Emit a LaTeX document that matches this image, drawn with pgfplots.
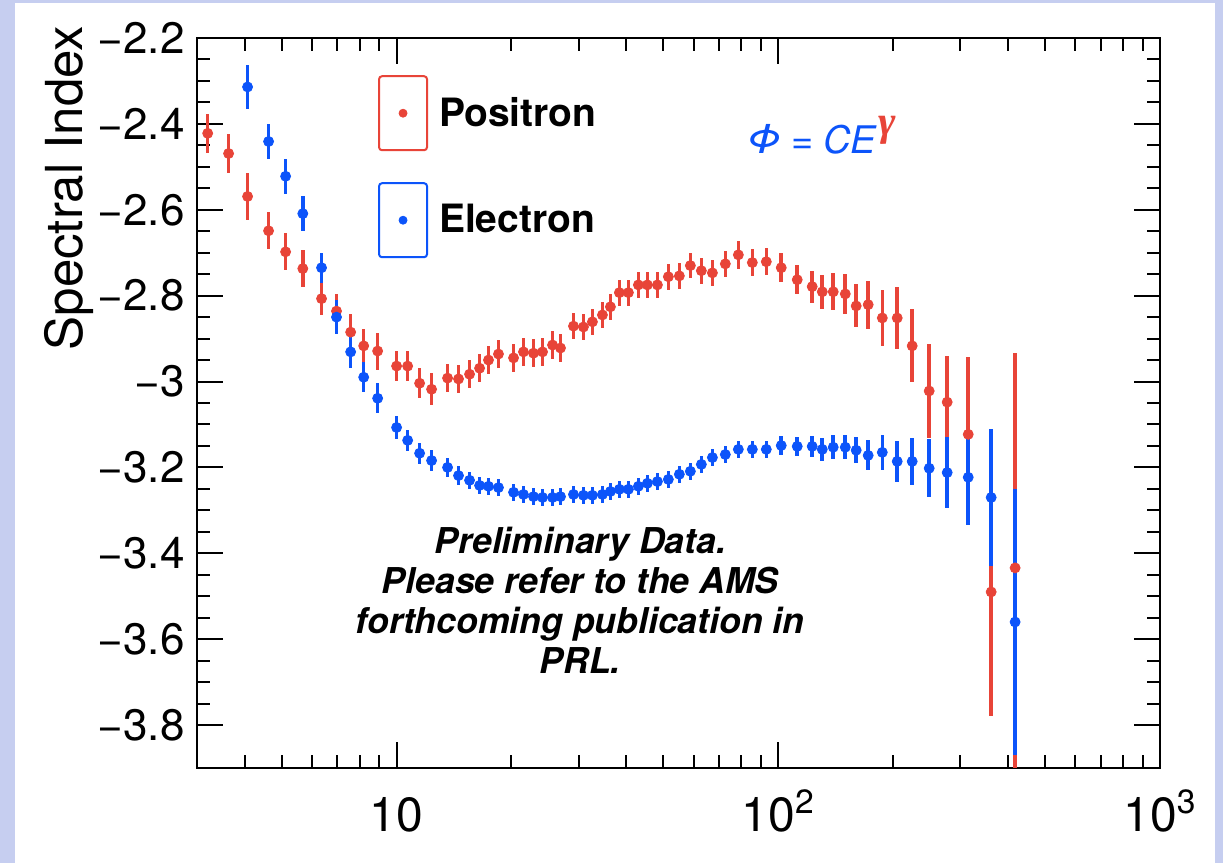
\documentclass[border=0pt]{standalone}
\usepackage{fontspec}
\setmainfont{TeX Gyre Heros}
\newfontfamily\greekserif{Liberation Serif}
\usepackage{pgfplots}
\usepackage{pgfplotstable}
\pgfplotsset{compat=1.18}
\definecolor{posred}{RGB}{232,68,56}
\definecolor{eleblue}{RGB}{12,84,250}
\definecolor{bgblue}{RGB}{198,206,240}

\pgfplotstableread{
x y e
3.20 -2.422 0.045
3.63 -2.469 0.045
4.07 -2.569 0.055
4.62 -2.649 0.043
5.12 -2.698 0.043
5.68 -2.737 0.043
6.36 -2.807 0.038
6.96 -2.836 0.040
7.58 -2.885 0.042
8.20 -2.917 0.040
8.92 -2.929 0.043
10.0 -2.964 0.035
10.69 -2.964 0.035
11.49 -3.004 0.035
12.35 -3.018 0.037
13.60 -2.992 0.033
14.53 -2.994 0.033
15.53 -2.983 0.033
16.50 -2.969 0.033
17.41 -2.950 0.033
18.49 -2.936 0.033
20.25 -2.945 0.033
21.50 -2.931 0.033
22.84 -2.934 0.033
24.12 -2.931 0.033
25.62 -2.915 0.033
26.88 -2.922 0.033
29.07 -2.871 0.030
30.87 -2.873 0.030
32.59 -2.861 0.030
34.62 -2.845 0.030
36.33 -2.826 0.030
38.35 -2.793 0.030
40.49 -2.793 0.030
43.00 -2.775 0.030
45.40 -2.775 0.030
48.23 -2.775 0.030
51.52 -2.756 0.030
55.06 -2.754 0.030
58.84 -2.730 0.030
62.88 -2.742 0.030
67.20 -2.747 0.030
72.66 -2.726 0.030
78.60 -2.705 0.033
85.51 -2.723 0.032
93.03 -2.721 0.032
101.8 -2.735 0.034
112.1 -2.763 0.034
122.7 -2.779 0.037
130.4 -2.791 0.039
139.3 -2.791 0.043
149.8 -2.796 0.047
160.0 -2.824 0.050
172.0 -2.821 0.056
187.3 -2.852 0.065
204.9 -2.852 0.072
224.3 -2.917 0.085
248.5 -3.022 0.110
277.0 -3.048 0.107
314.5 -3.123 0.180
361.2 -3.490 0.290
417.3 -3.434 0.500
}\positron

\pgfplotstableread{
x y e
4.07 -2.314 0.052
4.62 -2.441 0.041
5.12 -2.522 0.041
5.68 -2.609 0.041
6.36 -2.735 0.035
6.96 -2.850 0.040
7.58 -2.931 0.037
8.20 -2.990 0.035
8.92 -3.039 0.035
10.0 -3.107 0.027
10.69 -3.137 0.025
11.49 -3.167 0.025
12.35 -3.184 0.025
13.60 -3.200 0.022
14.53 -3.219 0.022
15.53 -3.230 0.020
16.50 -3.242 0.020
17.41 -3.244 0.020
18.49 -3.247 0.020
20.25 -3.258 0.020
21.50 -3.263 0.020
22.84 -3.268 0.020
24.12 -3.270 0.020
25.62 -3.270 0.020
26.88 -3.268 0.020
29.07 -3.263 0.020
30.87 -3.265 0.020
32.59 -3.265 0.020
34.62 -3.263 0.020
36.33 -3.256 0.020
38.35 -3.251 0.020
40.49 -3.251 0.020
43.00 -3.244 0.020
45.40 -3.237 0.020
48.23 -3.233 0.020
51.52 -3.228 0.020
55.06 -3.216 0.020
58.84 -3.209 0.020
62.88 -3.193 0.020
67.20 -3.177 0.020
72.66 -3.170 0.020
78.60 -3.158 0.020
85.51 -3.158 0.020
93.03 -3.158 0.020
101.8 -3.149 0.022
112.1 -3.151 0.022
122.7 -3.151 0.024
130.4 -3.158 0.026
139.3 -3.153 0.028
149.8 -3.153 0.028
160.0 -3.160 0.030
172.0 -3.172 0.035
187.3 -3.165 0.040
204.9 -3.186 0.047
224.3 -3.186 0.055
248.5 -3.202 0.068
277.0 -3.212 0.083
314.5 -3.223 0.110
361.2 -3.270 0.160
417.3 -3.560 0.310
}\electron

\begin{document}
\begin{tikzpicture}
\useasboundingbox (0,0) rectangle (611.5pt,431.5pt);
\fill[bgblue] (0,0) rectangle (611.5pt,431.5pt);
\fill[white] (7.5pt,0) rectangle (607.5pt,430pt);
\begin{axis}[
  at={(98.5pt,47.5pt)}, anchor=south west,
  scale only axis, width=481.5pt, height=365pt,
  xmode=log, xmin=3, xmax=1000, ymin=-3.9, ymax=-2.2,
  axis line style={line width=1pt, black},
  tick align=inside,
  major tick length=13pt, minor tick length=6.5pt,
  every tick/.style={line width=1pt, black},
  xtick={10,100,1000},
  xticklabels={10,10\textsuperscript{2},10\textsuperscript{3}},
  minor xtick={3,4,5,6,7,8,9,20,30,40,50,60,70,80,90,200,300,400,500,600,700,800,900},
  ytick={-3.8,-3.6,-3.4,-3.2,-3,-2.8,-2.6,-2.4,-2.2},
  yticklabels={−3.8,−3.6,−3.4,−3.2,−3,−2.8,−2.6,−2.4,−2.2},
  minor y tick num=3,
  xticklabel style={font=\fontsize{24}{28}\selectfont, anchor=base, inner sep=0pt, yshift=-32pt},
  yticklabel style={font=\fontsize{22}{26}\selectfont, anchor=east, inner sep=0pt, xshift=-6pt},
  ylabel={Spectral Index},
  every axis y label/.style={at={(axis description cs:-0.1184,0.7945)}, anchor=base, rotate=90, font=\fontsize{25.5}{30}\selectfont},
  legend style={at={(axis description cs:0.188,0.949)}, anchor=north west, draw=none, fill=none,
    inner sep=0pt, outer sep=0pt, row sep=15.5pt, column sep=5.5pt,
    font=\bfseries\fontsize{19.5}{22}\selectfont, nodes={inner sep=0pt, outer sep=0pt}},
  legend cell align=left,
  clip=true,
]
\addplot[only marks, mark=*, mark size=2.5pt, color=posred,
  legend image code/.code={\draw[posred, line width=1pt, rounded corners=1.5pt] (0pt,-18.5pt) rectangle (24pt,18.5pt); \fill[posred] (12pt,0pt) circle (2pt);},
  error bars/.cd, y dir=both, y explicit, error mark=none,
  error bar style={line width=1.8pt, posred}]
  table[x=x, y=y, y error=e] {\positron};
\addlegendentry{Positron}
\addplot[only marks, mark=*, mark size=2.5pt, color=eleblue,
  legend image code/.code={\draw[eleblue, line width=1pt, rounded corners=1.5pt] (0pt,-18.5pt) rectangle (24pt,18.5pt); \fill[eleblue] (12pt,0pt) circle (2pt);},
  error bars/.cd, y dir=both, y explicit, error mark=none,
  error bar style={line width=1.8pt, eleblue}]
  table[x=x, y=y, y error=e] {\electron};
\addlegendentry{Electron}
\node[eleblue, font=\itshape\fontsize{19}{22}\selectfont, anchor=base west, inner sep=0pt] at (axis description cs:0.570,0.842)
  {\scalebox{1.2}[1.05]{Φ}\hspace{5pt}=\hspace{5pt}CE\hspace{1pt}\raisebox{9pt}{\textcolor{posred}{\greekserif\bfseries\itshape\fontsize{21}{22}\selectfont γ}}};
\node[align=center, font=\bfseries\itshape\fontsize{17.8}{20}\selectfont] at (axis description cs:0.398,0.230)
  {Preliminary Data.\\Please refer to the AMS\\forthcoming publication in\\PRL.};
\end{axis}
\end{tikzpicture}
\end{document}
